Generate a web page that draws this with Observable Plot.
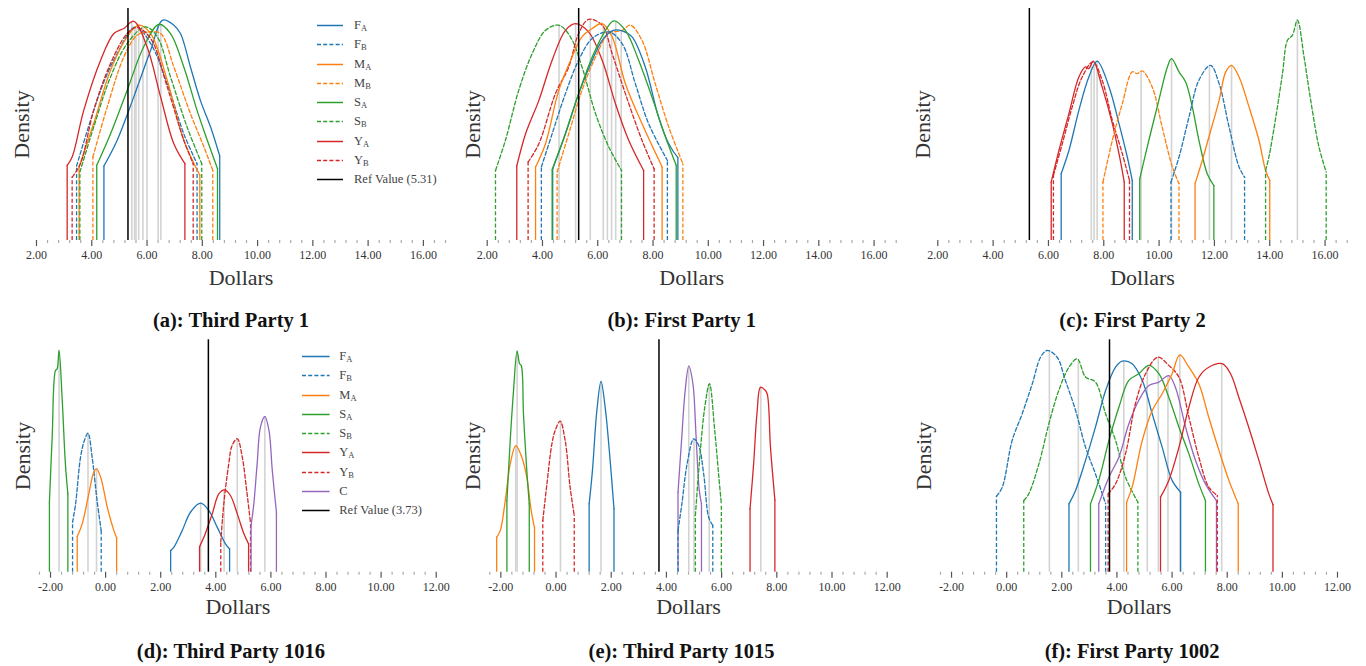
<!DOCTYPE html>
<html><head><meta charset="utf-8">
<script src="https://cdn.jsdelivr.net/npm/d3@7"></script>
<script src="https://cdn.jsdelivr.net/npm/@observablehq/plot@0.6"></script>
<style>
body{margin:0;background:#fff;width:1366px;height:666px;overflow:hidden;font-family:"Liberation Serif",serif;}
.panel{position:absolute;}
.legend{position:absolute;font-size:12.5px;color:#444;font-family:"Liberation Serif",serif;}
.legend .row{position:absolute;height:19px;display:flex;align-items:center;white-space:nowrap;}
.legend .sub{font-size:8.5px;position:relative;top:2.5px;}
</style></head><body><div id="root"></div>
<script>
// ---------- data ----------
const topTicks = [2, 4, 6, 8, 10, 12, 14, 16];
const bottomTicks = [-2, 0, 2, 4, 6, 8, 10, 12];
const captions = ["(a): Third Party 1", "(b): First Party 1", "(c): First Party 2",
                  "(d): Third Party 1016", "(e): Third Party 1015", "(f): First Party 1002"];
const refValues = [5.31, 5.31, 5.31, 3.73, 3.73, 3.73];
const legendA = ["FA", "FB", "MA", "MB", "SA", "SB", "YA", "YB"];
const legendD = ["FA", "FB", "MA", "SA", "SB", "YA", "YB", "C"];
const seriesNames = {FA: ["F", "A"], FB: ["F", "B"], MA: ["M", "A"], MB: ["M", "B"], SA: ["S", "A"],
                     SB: ["S", "B"], YA: ["Y", "A"], YB: ["Y", "B"], C: ["C", ""]};

// density curves: [dollars, relative density (% of panel height)], median in dollars
const thirdParty1 = [
  {key: "FA", median: 6.5, pts: [[4.44,32.1],[4.92,43.2],[5.52,61.9],[6.13,82],[6.57,95],[6.97,92.8],[7.21,89.2],[7.57,74.8],[7.93,60.4],[8.30,48.9],[8.63,36.4]]},
  {key: "FB", median: 5.55, pts: [[3.45,32.1],[4.32,64.7],[4.92,80.6],[5.58,92.1],[6.13,84.9],[6.73,67.6],[7.33,46],[7.81,33.1]]},
  {key: "MA", median: 5.7, pts: [[3.54,31.7],[4.07,50.4],[4.68,73.4],[5.28,87.8],[5.70,92.8],[6.13,89.2],[6.73,69.1],[7.33,43.2],[7.91,28.1]]},
  {key: "MB", median: 6.0, pts: [[4.04,36],[4.56,57.6],[5.16,79.1],[5.64,88.5],[6.00,89.9],[6.49,89.2],[6.97,74.8],[7.57,54.7],[8.06,40.3],[8.38,30.2]]},
  {key: "SA", median: 6.4, pts: [[4.18,32.4],[4.68,46],[5.28,64.7],[5.88,83.5],[6.43,93.2],[6.85,89.2],[7.33,74.8],[7.81,56.1],[8.18,43.2],[8.55,30.9]]},
  {key: "SB", median: 5.85, pts: [[3.57,29.5],[4.07,48.9],[4.68,70.5],[5.28,84.9],[5.94,92.1],[6.37,87.8],[6.85,70.5],[7.45,48.9],[7.98,33.1]]},
  {key: "YA", median: 5.45, pts: [[3.11,32.4],[3.29,36],[3.71,56.1],[4.32,77.7],[4.80,89.2],[5.16,91.4],[5.52,94.5],[6.00,83.5],[6.49,61.9],[6.97,41.7],[7.37,33.1]]},
  {key: "YB", median: 5.6, pts: [[3.29,27.3],[3.59,33.1],[4.07,56.1],[4.68,76.3],[5.28,89.2],[5.64,91.8],[6.13,87.1],[6.73,66.2],[7.33,43.2],[7.67,33.1]]}
];
const firstParty1 = [
  {key: "SB", median: 4.6, pts: [[2.30,30.2],[2.66,43.2],[3.14,64.7],[3.63,80.6],[4.11,90.6],[4.59,92.8],[5.01,87.8],[5.43,74.8],[5.92,54.7],[6.40,40.3],[6.86,30.2]]},
  {key: "YA", median: 5.2, pts: [[3.07,32.1],[3.39,46],[3.87,60.4],[4.35,77.7],[4.83,90.6],[5.19,93.5],[5.67,89.9],[6.16,77.7],[6.64,59],[7.12,43.2],[7.66,30.2]]},
  {key: "YB", median: 5.73, pts: [[3.48,33.8],[3.87,41.7],[4.47,63.3],[4.95,74.8],[5.31,89.2],[5.67,95.3],[6.16,92.8],[6.52,80.6],[7.00,63.3],[7.60,43.2],[8.04,30.9]]},
  {key: "MA", median: 6.2, pts: [[3.75,31.7],[4.11,41.7],[4.59,64.7],[5.07,79.1],[5.43,87.8],[5.80,91.4],[6.16,93.5],[6.52,87.8],[7.00,67.6],[7.60,50.4],[8.33,31.7]]},
  {key: "MB", median: 6.85, pts: [[4.53,29.5],[4.95,46],[5.43,64.7],[5.92,79.1],[6.40,89.2],[6.88,90.6],[7.18,92.8],[7.60,86.3],[8.08,67.6],[8.57,48.9],[9.08,33.1]]},
  {key: "FA", median: 6.5, pts: [[4.37,30.9],[4.83,46],[5.31,63.3],[5.80,77.7],[6.16,86.3],[6.52,90.4],[6.88,90.4],[7.24,87.8],[7.72,74.8],[8.20,53.2],[8.57,41.7],[8.90,35.7]]},
  {key: "FB", median: 6.35, pts: [[3.96,31.7],[4.35,46],[4.83,63.3],[5.31,77.7],[5.80,87.1],[6.40,89.9],[6.88,84.9],[7.36,67.6],[7.84,50.4],[8.52,34.5]]},
  {key: "SA", median: 6.65, pts: [[4.35,30.5],[4.83,46],[5.31,63.3],[5.80,79.1],[6.28,90.6],[6.58,94.7],[7.00,90.6],[7.48,77.7],[7.96,61.9],[8.45,44.6],[8.84,32.4]]}
];
const firstParty2 = [
  {key: "YA", median: 7.55, pts: [[6.10,25.2],[6.38,38.8],[6.74,54.7],[7.10,70.5],[7.34,74.8],[7.46,74.1],[7.62,77.3],[7.94,66.2],[8.31,50.4],[8.55,37.4],[8.74,25.2]]},
  {key: "YB", median: 7.65, pts: [[6.18,28.1],[6.50,41.7],[6.86,57.6],[7.22,70.5],[7.61,77],[7.94,69.1],[8.31,51.8],[8.67,37.4],[8.93,25.9]]},
  {key: "FA", median: 7.76, pts: [[6.46,28.8],[6.74,38.8],[7.10,56.1],[7.46,70.5],[7.76,77.3],[8.19,66.2],[8.55,50.4],[8.85,36],[9.03,25.9]]},
  {key: "MB", median: 9.35, pts: [[7.97,25.2],[8.31,43.2],[8.67,59],[9.03,72.7],[9.21,71.9],[9.39,73.1],[9.75,66.2],[10.11,48.9],[10.48,31.7],[10.72,24.5]]},
  {key: "SA", median: 10.45, pts: [[9.30,26.6],[9.63,43.2],[9.99,60.4],[10.30,74.8],[10.45,78.4],[10.72,72.7],[10.96,68.3],[11.20,57.6],[11.44,43.2],[11.74,28.8],[11.98,23.7]]},
  {key: "FB", median: 11.82, pts: [[10.43,25.2],[10.72,36],[11.08,53.2],[11.44,69.1],[11.86,75.5],[12.17,67.6],[12.53,48.9],[12.89,31.7],[13.09,27.3]]},
  {key: "MA", median: 12.62, pts: [[11.30,24.5],[11.56,34.5],[11.80,44.6],[12.17,60.4],[12.41,72.7],[12.62,75.5],[12.89,70.5],[13.25,57.6],[13.61,43.2],[13.85,30.2],[14.00,25.9]]},
  {key: "SB", median: 15.0, pts: [[13.85,30.2],[13.97,36],[14.22,53.2],[14.46,71.9],[14.64,86.3],[14.82,88.5],[15.00,95],[15.24,79.1],[15.48,60.4],[15.78,40.3],[16.04,29.5]]}
];
const thirdParty1016 = [
  {key: "SA", median: -1.69, pts: [[-2.04,30.1],[-1.94,58.1],[-1.82,86.8],[-1.76,87.5],[-1.69,95.4],[-1.58,75.3],[-1.46,46.6],[-1.37,33.7]]},
  {key: "FB", median: -0.64, pts: [[-1.20,21.5],[-1.09,29.4],[-0.91,49.5],[-0.77,56.7],[-0.64,59.8],[-0.49,49.5],[-0.31,30.8],[-0.16,17.9]]},
  {key: "MA", median: -0.33, pts: [[-1.03,15.4],[-0.85,20.8],[-0.61,33.7],[-0.43,43],[-0.33,44.5],[-0.18,40.9],[0.06,28],[0.30,17.9],[0.40,14.8]]},
  {key: "FA", median: 3.45, pts: [[2.36,9.3],[2.48,10.8],[2.78,17.9],[3.08,25.8],[3.45,29.7],[3.75,26.5],[4.05,19.4],[4.35,12.2],[4.50,10]]},
  {key: "YA", median: 4.3, pts: [[3.41,11],[3.57,15.1],[3.87,25.1],[4.11,33.7],[4.32,35.4],[4.53,33],[4.78,25.1],[5.02,16.5],[5.19,12.2]]},
  {key: "YB", median: 4.78, pts: [[4.18,12.9],[4.29,29.4],[4.47,46.6],[4.59,54.5],[4.78,57.4],[4.96,49.5],[5.12,35.2],[5.26,21.1]]},
  {key: "C", median: 5.78, pts: [[5.28,20.1],[5.38,29.4],[5.50,46.6],[5.62,62.4],[5.78,67],[5.93,61],[6.05,43.8],[6.20,25.8]]}
];
const thirdParty1015 = [
  {key: "MA", median: -1.46, pts: [[-2.15,15.1],[-2.02,17.9],[-1.84,30.8],[-1.66,46.6],[-1.46,54.5],[-1.24,49.5],[-1.06,40.9],[-0.90,26.5],[-0.78,19.1]]},
  {key: "SA", median: -1.41, pts: [[-1.78,30.8],[-1.66,56.7],[-1.54,78.2],[-1.41,95.1],[-1.32,89.7],[-1.26,89],[-1.18,68.1],[-1.06,43.8],[-0.97,29.4]]},
  {key: "YB", median: 0.16, pts: [[-0.48,22.2],[-0.33,38],[-0.15,55.2],[-0.03,61],[0.15,65],[0.33,56.7],[0.51,36.6],[0.66,24.4]]},
  {key: "FA", median: 1.63, pts: [[1.20,29.4],[1.32,43.8],[1.48,69.6],[1.63,82.1],[1.78,71],[1.93,52.4],[2.10,27.3]]},
  {key: "C", median: 4.81, pts: [[4.42,34.4],[4.54,55.2],[4.68,78.2],[4.81,88.7],[4.96,81.1],[5.07,59.5],[5.19,35.2],[5.27,29.4]]},
  {key: "FB", median: 5.0, pts: [[4.42,17.9],[4.56,29.4],[4.75,46.6],[4.99,57.4],[5.17,54.5],[5.35,42.3],[5.53,23.7],[5.68,20.1]]},
  {key: "SB", median: 5.55, pts: [[5.05,24.4],[5.19,46.6],[5.39,71],[5.56,81.1],[5.75,61],[5.90,40.9],[5.99,29.4]]},
  {key: "YA", median: 7.42, pts: [[7.03,27.3],[7.16,46.6],[7.28,68.1],[7.41,79.6],[7.56,78.5],[7.65,76.8],[7.77,53.8],[7.93,31.1]]}
];
const firstParty1002 = [
  {key: "FB", median: 1.55, pts: [[-0.37,32.7],[-0.16,36.6],[0.20,56.7],[0.56,68.1],[0.93,81.1],[1.23,92.5],[1.47,95.4],[1.83,92.5],[2.13,82.5],[2.50,69.6],[2.86,53.8],[3.22,42.3],[3.59,29.4]]},
  {key: "SB", median: 2.6, pts: [[0.62,30.8],[0.80,33.7],[1.17,46.6],[1.53,63.8],[1.89,78.2],[2.26,88.2],[2.56,91.8],[2.86,84],[3.22,81.8],[3.59,68.1],[3.95,56.7],[4.31,40.9],[4.76,30.1]]},
  {key: "FA", median: 4.25, pts: [[2.26,29.4],[2.50,35.2],[2.86,48.1],[3.22,62.4],[3.59,78.2],[3.95,88.2],[4.19,90.8],[4.55,89.7],[4.92,82.5],[5.28,68.1],[5.64,53.8],[6.00,39.5],[6.31,34.4]]},
  {key: "SA", median: 5.1, pts: [[3.04,29.4],[3.34,39.5],[3.71,56.7],[4.07,71],[4.43,82.5],[4.79,85.4],[5.16,89],[5.52,85.4],[5.88,75.3],[6.25,62.4],[6.61,50.9],[6.97,38],[7.21,30.8]]},
  {key: "C", median: 5.85, pts: [[3.34,29.4],[3.71,40.9],[4.07,49.5],[4.43,63.8],[4.79,73.9],[5.16,80.3],[5.52,81.8],[5.88,84.6],[6.12,79.6],[6.49,62.4],[6.85,48.1],[7.21,38],[7.61,30.8]]},
  {key: "YB", median: 5.5, pts: [[3.68,33.7],[3.95,38],[4.31,50.9],[4.67,72.5],[5.04,85.4],[5.48,92.5],[5.88,89],[6.25,83.9],[6.61,66.7],[6.97,49.5],[7.33,36.6],[7.64,33]]},
  {key: "MA", median: 6.28, pts: [[4.35,30.1],[4.55,36.6],[4.92,56.7],[5.28,69.6],[5.64,76.8],[6.00,85.4],[6.28,93.5],[6.61,88.2],[6.97,81.1],[7.33,66.7],[7.70,52.4],[8.06,39.5],[8.40,29.4]]},
  {key: "YA", median: 7.8, pts: [[5.58,32.3],[5.88,39.5],[6.25,53.8],[6.61,71],[6.97,83.9],[7.33,88.2],[7.82,89.7],[8.12,85.4],[8.42,75.3],[8.78,62.4],[9.15,48.1],[9.51,33.7],[9.66,29.1]]}
];

// ---------- styles / layout ----------
const seriesStyle = {
  FA: {color: "#1f77b4", dash: null}, FB: {color: "#1f77b4", dash: "4,2.2"},
  MA: {color: "#ff7f0e", dash: null}, MB: {color: "#ff7f0e", dash: "4,2.2"},
  SA: {color: "#2ca02c", dash: null}, SB: {color: "#2ca02c", dash: "4,2.2"},
  YA: {color: "#d62728", dash: null}, YB: {color: "#d62728", dash: "4,2.2"},
  C:  {color: "#9467bd", dash: null}
};
const panels = [
  {series: thirdParty1,    left: 0,   top: 0,   h: 330, ml: 36,   mr: 10,   mt: 8,   mb: 90,   domain: [2, 16.8],  ticks: topTicks,    row: 0},
  {series: firstParty1,    left: 455, top: 0,   h: 330, ml: 31.7, mr: 14.3, mt: 8,   mb: 90,   domain: [2, 16.8],  ticks: topTicks,    row: 0},
  {series: firstParty2,    left: 905, top: 0,   h: 330, ml: 32.3, mr: 13.3, mt: 8,   mb: 90,   domain: [2, 16.8],  ticks: topTicks,    row: 0},
  {series: thirdParty1016, left: 0,   top: 330, h: 336, ml: 39,   mr: 19.3, mt: 9.3, mb: 94.3, domain: [-2.4, 12], ticks: bottomTicks, row: 1},
  {series: thirdParty1015, left: 455, top: 330, h: 336, ml: 34.3, mr: 23.3, mt: 9.3, mb: 94.3, domain: [-2.4, 12], ticks: bottomTicks, row: 1},
  {series: firstParty1002, left: 905, top: 330, h: 336, ml: 35,   mr: 23,   mt: 9.3, mb: 94.3, domain: [-2.4, 12], ticks: bottomTicks, row: 1}
];

function interp(pts, x) {
  for (let i = 0; i < pts.length - 1; i++) {
    const [x0, y0] = pts[i], [x1, y1] = pts[i + 1];
    if (x >= x0 && x <= x1) return y0 + (y1 - y0) * (x - x0) / (x1 - x0);
  }
  return 0;
}

const root = document.getElementById("root");
panels.forEach((p, i) => {
  const marks = [];
  const medians = p.series.map(s => ({x: s.median, y: interp(s.pts, s.median)}));
  marks.push(Plot.ruleX(medians, {x: "x", y1: 0, y2: "y", stroke: "#d3d3d3", strokeWidth: 1.6}));
  p.series.forEach(s => {
    const st = seriesStyle[s.key];
    const rows = s.pts.map(([x, y]) => ({x, y}));
    const ends = [rows[0], rows[rows.length - 1]];
    marks.push(Plot.ruleX(ends, {x: "x", y1: 0, y2: "y", stroke: st.color, strokeWidth: 1.3, strokeDasharray: st.dash}));
    marks.push(Plot.line(rows, {x: "x", y: "y", stroke: st.color, strokeWidth: 1.3, strokeDasharray: st.dash, curve: "catmull-rom"}));
  });
  marks.push(Plot.ruleX([refValues[i]], {stroke: "#000", strokeWidth: 1.5}));
  const minor = d3.range(p.domain[0], p.domain[1] + 0.01, 0.4).map(v => +v.toFixed(2)).filter(v => !p.ticks.includes(v));
  marks.push(Plot.axisX({ticks: minor, tickSize: 3, tickFormat: () => "", stroke: "#aaa", strokeWidth: 1.2, label: null}));
  marks.push(Plot.axisX({ticks: p.ticks, tickSize: 6, tickPadding: 4, tickFormat: d => d.toFixed(2), stroke: "#555", strokeWidth: 1.2, fill: "#333", fontSize: 12, label: null}));
  marks.push(Plot.text(["Dollars"], {frameAnchor: "bottom", lineAnchor: "middle", dy: p.row ? 35 : 37, fontSize: 22, fill: "#333"}));
  marks.push(Plot.text(["Density"], {frameAnchor: "left", textAnchor: "middle", lineAnchor: "middle", dx: p.row ? -17 : -14.5, rotate: -90, fontSize: 22, fill: "#333"}));
  marks.push(Plot.text([captions[i]], {frameAnchor: "bottom", lineAnchor: "middle", dy: p.row ? 79 : 80, dx: p.row ? -7 : -10, fontSize: 20.5, fontWeight: "bold", fill: "#111"}));
  const chart = Plot.plot({
    width: 455, height: p.h,
    marginLeft: p.ml, marginRight: p.mr, marginTop: p.mt, marginBottom: p.mb,
    x: {domain: p.domain},
    y: {domain: [0, 100], axis: null},
    style: {fontFamily: "'Liberation Serif', serif", fontSize: "12px", background: "transparent", overflow: "visible"},
    marks
  });
  const div = document.createElement("div");
  div.className = "panel";
  div.style.left = p.left + "px";
  div.style.top = p.top + "px";
  div.appendChild(chart);
  root.appendChild(div);
});

function addLegend(keys, ref, x1, x2, xl, y0) {
  const lg = document.createElement("div");
  lg.className = "legend";
  lg.style.left = "0px"; lg.style.top = "0px";
  const entries = keys.map(k => ({name: seriesNames[k], color: seriesStyle[k].color, dash: seriesStyle[k].dash}));
  entries.push({name: ["Ref Value (" + ref.toFixed(2) + ")", ""], color: "#000", dash: null});
  entries.forEach((e, i) => {
    const row = document.createElement("div");
    row.className = "row";
    row.style.left = x1 + "px";
    row.style.top = (y0 + i * 19.25 - 9.5) + "px";
    const w = xl - x1;
    row.innerHTML = `<svg width="${w}" height="19"><line x1="0" x2="${x2 - x1}" y1="9.5" y2="9.5" stroke="${e.color}" stroke-width="1.5" ${e.dash ? `stroke-dasharray="${e.dash}"` : ""}/></svg>` +
      `<span>${e.name[0]}</span>` + (e.name[1] ? `<span class="sub">${e.name[1]}</span>` : "");
    lg.appendChild(row);
  });
  root.appendChild(lg);
}
addLegend(legendA, refValues[0], 317, 343, 354, 25.7);
addLegend(legendD, refValues[3], 301.7, 329.3, 339.3, 356.7);
</script>
</body></html>
